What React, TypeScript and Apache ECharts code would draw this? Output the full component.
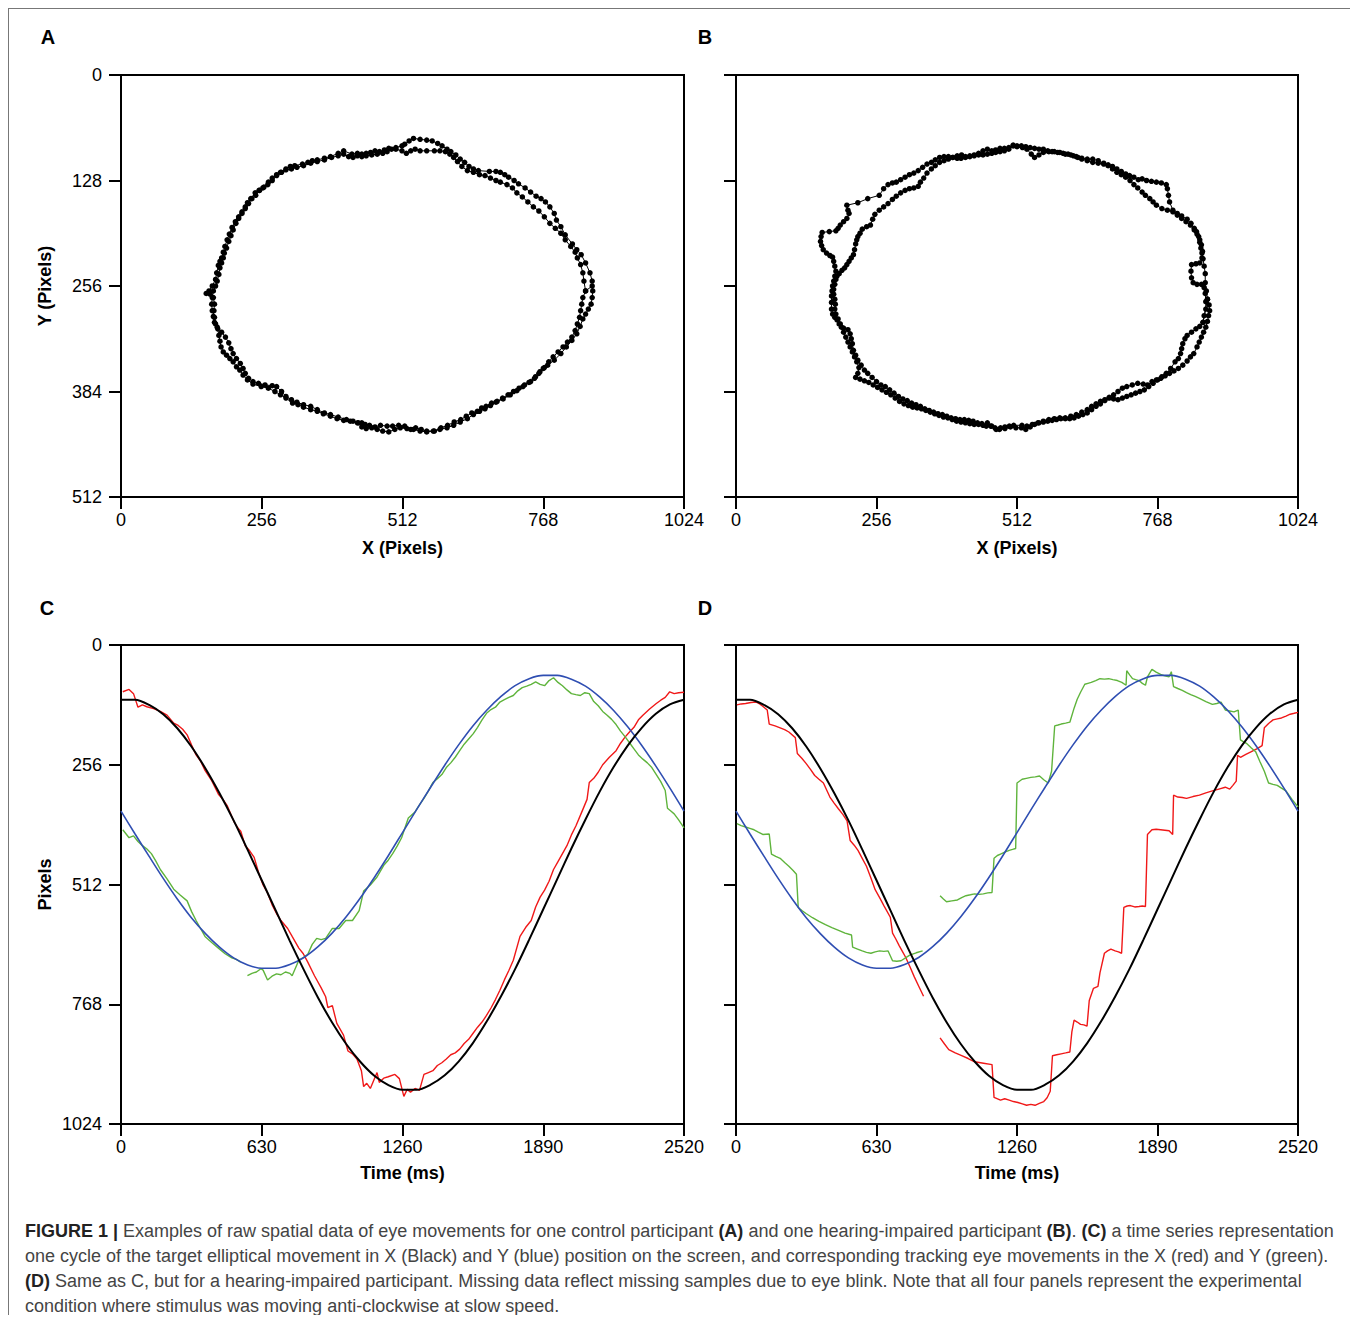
import React, { useEffect, useRef } from "react";
import * as echarts from "echarts";

const FONT = "'Liberation Sans', Arial, Helvetica, sans-serif";

// ---- axis ticks ----
const pixelTicks = [0, 256, 512, 768, 1024];
const yPixelTicks = [0, 128, 256, 384, 512];
const timeTicks = [0, 630, 1260, 1890, 2520];
const tracePixelTicks = [0, 256, 512, 768, 1024];

// ---- Panel A: control participant, raw gaze samples [x, y] ----
const aLoop1 = [
  [857,250],[853,240],[845,228],[837,218],[829,212],[821,205],[808,194],[800,184],[792,176],[788,168],[780,160],[772,154],[764,150],[755,147],[745,142],[735,137],[723,132],[715,128],[705,124],[698,121],[690,118],[682,117],[670,117],[650,116],[641,114],[633,111],[625,106],[617,102],[609,97],[600,93],[593,90],[584,86],[576,83],[566,80],[556,79],[544,78],[532,77],[524,80],[516,84],[511,86],[500,88],[487,89],[479,91],[470,93],[462,92],[454,94],[446,95],[438,96],[430,95],[420,96],[405,92],[395,95],[381,99],[370,101],[357,103],[348,104],[340,106],[330,108],[316,110],[308,111],[300,114],[290,118],[283,122],[275,128],[267,133],[258,137],[251,140],[244,143],[236,150],[230,155],[226,160],[220,166],[214,172],[208,178],[202,185],[197,193],[193,200],[189,208],[186,215],[183,222],[180,226],[177,231],[174,240],[172,248],[166,256],[160,262],[155,265],[162,266],[168,270],[170,278],[169,286],[168,293],[170,300],[175,306],[183,312],[190,318],[196,325],[200,332],[204,338],[210,344],[217,350],[222,356],[226,362],[232,368],[240,372],[250,374],[262,376],[275,377],[283,378],[292,384],[300,390],[310,394],[320,397],[332,400],[345,402],[357,406],[370,410],[381,412],[395,415],[410,418],[422,420],[432,422],[438,427],[446,429],[456,428],[466,430],[476,432],[487,433],[498,430],[508,428],[520,429],[532,430],[544,432],[556,433],[568,432],[580,430],[593,428],[605,425],[617,421],[630,417],[641,412],[652,408],[662,405],[672,401],[682,397],[695,393],[708,388],[720,383],[731,378],[742,373],[752,368],[760,362],[768,356],[776,352],[788,346],[800,338],[810,330],[820,322],[829,314],[835,305],[840,296],[845,290],[850,284],[855,278],[857,270],[858,262],[857,256]
];
const aLoop2 = [
  [845,262],[842,250],[840,240],[836,230],[830,222],[826,215],[818,208],[808,200],[800,192],[790,186],[780,180],[770,172],[760,165],[750,160],[740,154],[730,148],[720,143],[712,137],[702,133],[690,130],[682,128],[672,125],[662,122],[652,121],[641,118],[630,116],[620,111],[612,105],[605,100],[598,96],[590,93],[580,92],[570,92],[556,92],[544,92],[535,90],[527,92],[519,95],[511,92],[500,90],[492,90],[484,93],[476,95],[466,96],[456,97],[446,98],[438,99],[430,98],[422,100],[414,99],[405,96],[395,98],[383,100],[370,103],[357,105],[345,107],[332,110],[320,112],[310,114],[300,115],[292,118],[283,121],[275,125],[268,130],[260,136],[252,140],[245,146],[238,150],[232,156],[226,162],[220,168],[214,174],[209,180],[204,188],[200,195],[196,202],[192,210],[188,216],[186,222],[183,228],[180,234],[178,242],[175,250],[172,256],[168,262],[166,270],[165,278],[166,286],[170,294],[172,302],[176,308],[178,316],[180,323],[182,330],[186,336],[192,340],[198,344],[204,348],[210,354],[216,358],[222,364],[230,370],[240,375],[255,378],[268,380],[280,384],[290,388],[300,392],[312,398],[322,400],[332,403],[345,406],[357,408],[368,411],[381,414],[393,417],[405,419],[417,420],[430,422],[438,422],[444,424],[452,425],[462,427],[472,425],[484,426],[494,426],[505,425],[516,426],[527,430],[536,428],[546,430],[556,432],[570,432],[582,428],[594,425],[606,421],[618,418],[628,414],[638,410],[648,408],[656,404],[664,402],[674,398],[684,396],[694,392],[704,388],[714,384],[724,380],[734,376],[745,372],[754,366],[762,360],[770,355],[778,348],[786,342],[795,336],[804,330],[812,324],[820,318],[826,310],[830,302],[834,294],[836,286],[838,278],[840,270],[845,262]
];

// ---- Panel B: hearing-impaired participant, raw gaze samples [x, y] ----
const bLoop1 = [
  [859,272],[857,262],[855,252],[855,241],[853,232],[851,223],[849,216],[847,210],[845,203],[843,196],[839,190],[835,186],[829,180],[822,175],[812,171],[804,168],[796,164],[790,154],[788,146],[786,138],[784,133],[775,131],[766,130],[757,129],[748,128],[740,126],[733,127],[725,124],[717,122],[710,120],[702,117],[694,114],[686,111],[678,109],[670,107],[660,104],[650,102],[640,102],[630,101],[623,100],[615,98],[605,96],[596,95],[586,94],[576,93],[568,92],[560,90],[552,90],[544,89],[536,88],[528,87],[520,86],[512,86],[505,85],[497,88],[489,89],[481,89],[473,91],[466,92],[458,90],[450,92],[442,95],[434,98],[426,99],[418,100],[410,101],[403,101],[395,100],[387,99],[379,99],[371,100],[363,103],[356,106],[348,108],[340,112],[332,116],[324,119],[316,121],[308,124],[300,127],[292,130],[285,131],[277,133],[269,138],[261,146],[240,150],[222,155],[202,158],[204,164],[206,168],[202,174],[196,178],[190,182],[186,186],[182,189],[170,190],[157,191],[155,196],[154,202],[156,207],[159,212],[165,216],[171,219],[176,221],[178,226],[180,232],[182,238],[180,244],[178,250],[176,256],[175,262],[174,268],[174,276],[174,284],[176,290],[180,294],[184,297],[188,302],[192,306],[196,312],[200,318],[204,324],[208,330],[212,336],[216,342],[220,348],[224,355],[222,362],[218,367],[226,369],[234,371],[242,373],[250,376],[258,379],[266,382],[274,385],[282,388],[290,392],[298,396],[306,399],[314,401],[322,403],[330,404],[338,405],[346,407],[354,409],[362,411],[370,413],[378,415],[386,416],[394,418],[402,420],[410,421],[418,422],[426,423],[434,424],[442,424],[450,425],[458,422],[466,426],[474,430],[482,428],[490,427],[498,426],[506,425],[521,425],[528,430],[536,427],[544,424],[552,422],[560,421],[568,420],[576,419],[584,418],[592,417],[600,417],[608,417],[616,416],[624,414],[632,412],[640,410],[648,406],[656,402],[664,399],[672,395],[680,391],[688,388],[696,384],[704,380],[712,378],[722,376],[732,374],[742,375],[750,376],[758,372],[766,370],[774,368],[782,365],[790,362],[798,359],[806,356],[814,352],[822,347],[828,342],[834,338],[840,330],[844,324],[848,318],[852,312],[856,306],[859,299],[861,292],[863,286],[862,279],[859,272]
];
const bLoop2 = [
  [851,300],[853,292],[856,284],[856,275],[855,265],[853,258],[848,254],[840,254],[833,252],[830,246],[829,238],[830,230],[838,229],[845,228],[849,222],[850,214],[848,206],[845,200],[840,193],[835,188],[828,182],[820,178],[812,174],[804,170],[796,166],[786,164],[776,162],[766,158],[760,154],[754,150],[746,146],[740,142],[732,137],[725,133],[718,128],[710,124],[702,121],[694,118],[686,114],[678,110],[670,108],[660,107],[650,106],[640,104],[630,102],[620,99],[610,97],[600,96],[590,94],[580,93],[570,93],[560,94],[552,97],[544,100],[538,96],[530,90],[522,88],[512,87],[505,86],[497,90],[489,92],[481,93],[473,94],[466,95],[458,96],[450,97],[442,97],[434,97],[426,98],[418,99],[411,97],[403,98],[395,100],[387,102],[379,104],[371,106],[363,110],[356,114],[348,119],[342,125],[336,130],[332,135],[324,137],[316,138],[308,140],[300,143],[292,147],[285,151],[277,156],[269,160],[261,164],[253,169],[249,175],[245,182],[238,184],[230,187],[226,192],[222,196],[220,200],[218,205],[216,212],[214,218],[210,222],[206,226],[202,230],[198,234],[193,237],[188,241],[184,244],[182,248],[180,254],[178,260],[178,266],[180,272],[181,278],[180,284],[182,290],[186,296],[190,302],[196,307],[204,309],[208,314],[210,320],[212,326],[214,334],[218,340],[222,346],[228,352],[234,358],[240,362],[248,367],[256,372],[264,376],[272,378],[280,382],[288,386],[296,390],[304,393],[312,395],[320,398],[328,400],[336,402],[344,405],[352,407],[360,409],[368,411],[376,412],[384,414],[392,416],[400,417],[408,418],[416,418],[424,419],[432,420],[440,422],[448,423],[456,426],[464,426],[472,428],[480,430],[490,429],[500,427],[510,428],[520,428],[530,426],[540,424],[550,422],[560,420],[570,418],[580,417],[590,416],[600,416],[610,414],[620,412],[630,409],[640,406],[648,402],[656,399],[664,396],[672,394],[680,392],[688,393],[696,394],[704,392],[712,390],[720,388],[728,386],[736,384],[744,382],[752,378],[760,374],[768,370],[776,366],[784,362],[792,356],[800,348],[806,344],[810,338],[812,332],[814,326],[818,320],[822,316],[830,312],[838,308],[845,305],[851,300]
];

// ---- Target (stimulus) position over one cycle ----
const targetTime = [0,63,126,189,252,315,378,441,504,567,630,693,756,819,882,945,1008,1071,1134,1197,1260,1323,1386,1449,1512,1575,1638,1701,1764,1827,1890,1953,2016,2079,2142,2205,2268,2331,2394,2457,2520];
const targetX = [117,117,128,148,178,217,264,317,375,438,503,568,633,695,754,807,853,891,921,941,951,951,940,920,890,851,804,751,693,630,565,500,435,373,314,261,215,177,147,127,117];
const targetY = [355,404,452,499,543,583,617,646,669,684,691,691,683,668,645,616,581,541,497,450,401,352,304,257,213,173,139,110,87,72,65,65,73,88,111,140,175,215,259,306,355];

// ---- Panel C: eye position [time, pixels] ----
const cRedX = [
  [8,100],[36,95],[56,104],[76,133],[96,128],[116,132],[146,136],[176,142],[206,150],[236,167],[256,172],[276,180],[296,192],[316,214],[336,235],[356,248],[376,268],[406,290],[436,319],[456,330],[476,344],[506,378],[526,393],[536,398],[556,429],[576,440],[596,454],[616,487],[636,513],[656,530],[676,555],[696,574],[716,589],[746,606],[766,623],[796,648],[816,660],[836,678],[866,707],[896,733],[916,752],[926,775],[946,771],[966,809],[996,834],[1016,868],[1036,874],[1056,885],[1076,910],[1086,944],[1100,937],[1116,948],[1146,914],[1156,935],[1176,926],[1196,923],[1226,918],[1246,927],[1266,965],[1281,950],[1296,956],[1316,948],[1336,952],[1356,918],[1376,914],[1396,910],[1416,899],[1436,893],[1456,885],[1476,876],[1496,872],[1516,864],[1536,852],[1556,843],[1576,830],[1596,817],[1616,806],[1636,792],[1656,776],[1676,758],[1696,738],[1716,716],[1736,696],[1756,674],[1786,623],[1811,604],[1836,589],[1856,560],[1876,539],[1896,524],[1916,505],[1936,480],[1956,463],[1976,446],[1996,429],[2016,406],[2036,387],[2066,353],[2086,330],[2096,294],[2116,285],[2136,272],[2156,256],[2186,240],[2216,226],[2236,210],[2256,197],[2276,186],[2296,176],[2316,160],[2336,150],[2366,137],[2396,125],[2416,118],[2436,112],[2456,100],[2476,104],[2496,102],[2520,101]
];
const cGreenY1 = [
  [8,395],[36,412],[56,408],[76,420],[96,429],[116,436],[136,446],[156,462],[176,480],[206,500],[236,522],[266,535],[296,547],[316,570],[336,589],[356,606],[376,623],[406,636],[436,648],[466,660],[496,669],[516,672],[536,678]
];
const cGreenY2 = [
  [566,707],[586,702],[606,699],[626,692],[636,695],[656,716],[676,708],[696,703],[716,705],[736,699],[756,702],[766,707],[796,674],[816,668],[836,661],[856,640],[876,627],[896,630],[916,627],[946,606],[976,606],[1006,589],[1036,589],[1066,568],[1086,526],[1116,513],[1146,496],[1176,471],[1196,460],[1216,446],[1236,430],[1256,412],[1286,370],[1316,357],[1336,342],[1356,328],[1376,312],[1396,294],[1416,286],[1436,277],[1456,262],[1476,252],[1496,240],[1516,226],[1536,212],[1556,201],[1576,190],[1596,176],[1616,160],[1636,146],[1656,138],[1676,133],[1696,122],[1716,117],[1736,112],[1756,108],[1776,98],[1796,91],[1816,88],[1836,84],[1856,79],[1876,84],[1896,87],[1916,76],[1936,70],[1956,80],[1976,87],[1996,96],[2016,104],[2036,106],[2056,108],[2076,102],[2096,104],[2116,121],[2136,130],[2156,142],[2176,150],[2196,159],[2216,170],[2236,184],[2256,196],[2276,209],[2296,222],[2316,235],[2336,244],[2356,252],[2376,262],[2396,277],[2416,292],[2436,311],[2446,349],[2461,355],[2476,361],[2496,374],[2520,391]
];

// ---- Panel D: eye position [time, pixels] ----
const dRedX1 = [
  [4,128],[23,126],[43,125],[67,123],[91,122],[106,126],[120,131],[140,139],[149,169],[175,173],[198,177],[218,181],[237,186],[266,198],[275,232],[295,242],[314,253],[334,266],[353,279],[372,287],[392,295],[421,325],[440,338],[459,350],[479,362],[498,376],[512,418],[530,428],[547,439],[566,456],[585,473],[605,498],[624,523],[644,540],[663,557],[692,582],[702,616],[716,628],[731,642],[746,655],[760,667],[780,688],[799,709],[820,730],[841,751]
];
const dRedX2 = [
  [915,840],[935,853],[954,865],[983,872],[1012,878],[1041,884],[1070,891],[1110,894],[1148,897],[1157,967],[1186,973],[1205,970],[1225,973],[1244,976],[1264,978],[1284,981],[1303,984],[1322,982],[1341,984],[1360,980],[1380,976],[1395,968],[1409,954],[1419,878],[1438,876],[1458,874],[1478,872],[1497,870],[1506,827],[1516,802],[1530,806],[1545,811],[1560,812],[1574,815],[1584,760],[1603,734],[1623,730],[1632,701],[1652,659],[1666,654],[1681,650],[1700,654],[1715,656],[1729,659],[1739,561],[1754,558],[1768,557],[1788,560],[1807,559],[1822,558],[1836,559],[1845,405],[1865,395],[1884,394],[1904,395],[1923,396],[1942,397],[1958,405],[1962,321],[1981,325],[2001,326],[2020,328],[2049,324],[2078,321],[2107,316],[2136,312],[2165,308],[2194,304],[2214,308],[2228,300],[2243,291],[2249,236],[2262,240],[2286,234],[2311,228],[2335,222],[2359,215],[2369,177],[2388,168],[2408,160],[2427,158],[2446,156],[2466,152],[2485,148],[2503,146],[2520,144]
];
const dGreenY1 = [
  [4,382],[23,386],[43,389],[62,392],[81,395],[100,400],[120,405],[149,404],[159,447],[178,452],[198,456],[218,465],[237,473],[256,482],[271,490],[279,561],[297,568],[314,574],[343,583],[372,591],[401,598],[430,604],[460,610],[489,616],[518,620],[523,646],[545,650],[566,654],[585,657],[605,659],[624,656],[644,654],[663,655],[682,654],[702,675],[721,676],[740,675],[760,669],[779,663],[808,658],[837,654]
];
const dGreenY2 = [
  [915,536],[930,543],[944,549],[968,547],[993,545],[1012,540],[1031,536],[1051,534],[1070,532],[1090,533],[1109,532],[1129,530],[1148,529],[1157,456],[1172,450],[1186,447],[1205,443],[1225,439],[1240,437],[1254,435],[1260,295],[1283,287],[1302,285],[1322,283],[1342,282],[1361,280],[1380,288],[1400,295],[1415,270],[1429,173],[1444,171],[1458,169],[1478,167],[1497,165],[1516,135],[1530,116],[1545,101],[1564,84],[1578,82],[1593,80],[1613,76],[1632,72],[1652,73],[1671,72],[1690,74],[1710,76],[1730,80],[1749,86],[1752,55],[1765,64],[1778,72],[1792,74],[1807,76],[1822,82],[1836,86],[1845,68],[1865,52],[1884,58],[1904,63],[1923,66],[1942,68],[1952,57],[1962,89],[1981,93],[2001,97],[2020,102],[2039,106],[2059,110],[2078,114],[2107,121],[2136,127],[2156,125],[2175,122],[2194,139],[2214,141],[2233,143],[2252,139],[2262,203],[2276,207],[2291,211],[2311,220],[2330,228],[2350,250],[2369,270],[2388,295],[2408,298],[2427,300],[2446,306],[2466,312],[2493,330],[2520,346]
];

function toPairs(xs: number[], ys: number[]) {
  return xs.map((x, i) => [x, ys[i]]);
}

function buildOption() {
  const tickLen = 12;
  const baseAxis = (extra: any, labelMargin: number, showLabel = true) => ({
    type: "value",
    axisLine: { show: true, onZero: false, lineStyle: { color: "#000", width: 2 } },
    axisTick: { show: true, inside: false, length: tickLen, lineStyle: { color: "#000", width: 2 } },
    splitLine: { show: false },
    axisLabel: {
      show: showLabel,
      color: "#000",
      fontSize: 18,
      fontFamily: FONT,
      margin: labelMargin,
      formatter: (v: number) => String(v),
    },
    nameTextStyle: { color: "#000", fontSize: 18, fontWeight: "bold", fontFamily: FONT },
    ...extra,
  });

  const grids = [
    { left: 112, top: 66, width: 563, height: 422 },
    { left: 727, top: 66, width: 562, height: 422 },
    { left: 112, top: 636, width: 563, height: 479 },
    { left: 727, top: 636, width: 562, height: 479 },
  ].map((g) => ({ ...g, show: true, borderColor: "#000", borderWidth: 2, backgroundColor: "transparent" }));

  const step = (arr: number[]) => arr[1] - arr[0];
  const last = (arr: number[]) => arr[arr.length - 1];

  const xAxes = [
    baseAxis({ gridIndex: 0, min: pixelTicks[0], max: last(pixelTicks), interval: step(pixelTicks), name: "X (Pixels)", nameLocation: "middle", nameGap: 42 }, 14),
    baseAxis({ gridIndex: 1, min: pixelTicks[0], max: last(pixelTicks), interval: step(pixelTicks), name: "X (Pixels)", nameLocation: "middle", nameGap: 42 }, 14),
    baseAxis({ gridIndex: 2, min: timeTicks[0], max: last(timeTicks), interval: step(timeTicks), name: "Time (ms)", nameLocation: "middle", nameGap: 40 }, 14),
    baseAxis({ gridIndex: 3, min: timeTicks[0], max: last(timeTicks), interval: step(timeTicks), name: "Time (ms)", nameLocation: "middle", nameGap: 40 }, 14),
  ];
  const yAxes = [
    baseAxis({ gridIndex: 0, inverse: true, min: yPixelTicks[0], max: last(yPixelTicks), interval: step(yPixelTicks), name: "Y (Pixels)", nameLocation: "middle", nameGap: 67 }, 19),
    baseAxis({ gridIndex: 1, inverse: true, min: yPixelTicks[0], max: last(yPixelTicks), interval: step(yPixelTicks) }, 19, false),
    baseAxis({ gridIndex: 2, inverse: true, min: tracePixelTicks[0], max: last(tracePixelTicks), interval: step(tracePixelTicks), name: "Pixels", nameLocation: "middle", nameGap: 67 }, 19),
    baseAxis({ gridIndex: 3, inverse: true, min: tracePixelTicks[0], max: last(tracePixelTicks), interval: step(tracePixelTicks) }, 19, false),
  ];

  const scatterLine = (idx: number, data: number[][]) => ({
    type: "line",
    xAxisIndex: idx,
    yAxisIndex: idx,
    data,
    symbol: "circle",
    symbolSize: 5.5,
    showSymbol: true,
    lineStyle: { color: "#000", width: 1 },
    itemStyle: { color: "#000", borderWidth: 0 },
    emphasis: { disabled: true },
    silent: true,
  });
  const trace = (idx: number, data: number[][], color: string, width: number, smooth: any = false, z = 2) => ({
    type: "line",
    xAxisIndex: idx,
    yAxisIndex: idx,
    data,
    showSymbol: false,
    symbol: "none",
    smooth,
    z,
    lineStyle: { color, width },
    emphasis: { disabled: true },
    silent: true,
  });

  const RED = "#f01818";
  const GREEN = "#5fb43c";
  const BLUE = "#2f4eb2";
  const BLACK = "#000000";
  const tX = toPairs(targetTime, targetX);
  const tY = toPairs(targetTime, targetY);

  const series = [
    scatterLine(0, [...aLoop1, ...aLoop2]),
    scatterLine(1, [...bLoop1, ...bLoop2]),
    trace(2, cRedX, RED, 1.4),
    trace(2, cGreenY1, GREEN, 1.4),
    trace(2, cGreenY2, GREEN, 1.4),
    trace(2, tY, BLUE, 1.6, 0.3, 3),
    trace(2, tX, BLACK, 2, 0.3, 4),
    trace(3, dRedX1, RED, 1.4),
    trace(3, dRedX2, RED, 1.4),
    trace(3, dGreenY1, GREEN, 1.4),
    trace(3, dGreenY2, GREEN, 1.4),
    trace(3, tY, BLUE, 1.6, 0.3, 3),
    trace(3, tX, BLACK, 2, 0.3, 4),
  ];

  const label = (text: string, x: number, y: number) => ({
    type: "text",
    x,
    y,
    style: { text, fill: "#000", font: `bold 20px ${FONT}`, textAlign: "center", textVerticalAlign: "middle" },
  });

  return {
    animation: false,
    backgroundColor: "#fff",
    grid: grids,
    xAxis: xAxes,
    yAxis: yAxes,
    series,
    graphic: [label("A", 39, 28), label("B", 696, 28), label("C", 38, 599), label("D", 696, 599)],
  };
}

export default function App() {
  const ref = useRef<HTMLDivElement>(null);
  useEffect(() => {
    document.documentElement.style.overflow = "hidden";
    if (!ref.current) return;
    const chart = echarts.init(ref.current, undefined, { renderer: "svg" });
    chart.setOption(buildOption() as any);
    return () => chart.dispose();
  }, []);

  const b = { fontWeight: "bold" as const, color: "#222" };
  return (
    <div
      style={{
        position: "relative",
        width: 1346,
        height: 1306,
        borderTop: "1px solid #777",
        borderLeft: "1px solid #777",
        borderRight: "1px solid #777",
        background: "#fff",
        overflow: "hidden",
      }}
    >
      <div ref={ref} style={{ position: "absolute", left: 0, top: 0, width: 1346, height: 1200 }} />
      <div
        style={{
          position: "absolute",
          left: 16,
          top: 1210,
          fontFamily: FONT,
          fontSize: 18,
          lineHeight: "25px",
          color: "#444",
          whiteSpace: "nowrap",
        }}
      >
        <span style={b}>FIGURE 1 |</span> Examples of raw spatial data of eye movements for one control participant <span style={b}>(A)</span> and one hearing-impaired participant <span style={b}>(B)</span>. <span style={b}>(C)</span> a time series representation
        <br />
        one cycle of the target elliptical movement in X (Black) and Y (blue) position on the screen, and corresponding tracking eye movements in the X (red) and Y (green).
        <br />
        <span style={b}>(D)</span> Same as C, but for a hearing-impaired participant. Missing data reflect missing samples due to eye blink. Note that all four panels represent the experimental
        <br />
        condition where stimulus was moving anti-clockwise at slow speed.
      </div>
    </div>
  );
}
